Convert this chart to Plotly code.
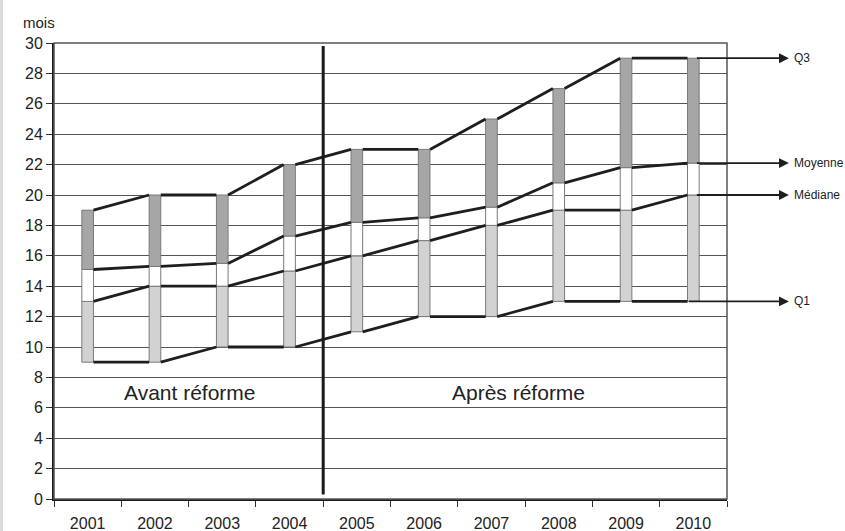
import plotly.graph_objects as go

years = [2001, 2002, 2003, 2004, 2005, 2006, 2007, 2008, 2009, 2010]
q1 = [9.0, 9.0, 10.0, 10.0, 11.0, 12.0, 12.0, 13.0, 13.0, 13.0]
mediane = [13.0, 14.0, 14.0, 15.0, 16.0, 17.0, 18.0, 19.0, 19.0, 20.0]
moyenne = [15.1, 15.3, 15.5, 17.3, 18.2, 18.5, 19.2, 20.8, 21.8, 22.1]
q3 = [19.0, 20.0, 20.0, 22.0, 23.0, 23.0, 25.0, 27.0, 29.0, 29.0]
y_ticks = list(range(0, 31, 2))
reform_split = 2004.5
series_labels = ["Q3", "Moyenne", "Médiane", "Q1"]

BAR_W = 0.173
HW = BAR_W / 2
FONT = "Liberation Sans, Arial, sans-serif"

fig = go.Figure()

outline = dict(color="#7a7a7a", width=1)
fig.add_trace(go.Bar(x=years, base=q1, y=[m - a for m, a in zip(mediane, q1)],
                     width=BAR_W, marker=dict(color="#d2d2d2", line=outline),
                     showlegend=False, hoverinfo="skip"))
fig.add_trace(go.Bar(x=years, base=mediane, y=[m - a for m, a in zip(moyenne, mediane)],
                     width=BAR_W, marker=dict(color="#ffffff", line=outline),
                     showlegend=False, hoverinfo="skip"))
fig.add_trace(go.Bar(x=years, base=moyenne, y=[m - a for m, a in zip(q3, moyenne)],
                     width=BAR_W, marker=dict(color="#a6a6a6", line=outline),
                     showlegend=False, hoverinfo="skip"))


def segments(vals):
    xs, ys = [], []
    for i in range(len(years) - 1):
        xs += [years[i] + HW, years[i + 1] - HW, None]
        ys += [vals[i], vals[i + 1], None]
    return xs, ys


for vals in (q1, mediane, moyenne, q3):
    sx, sy = segments(vals)
    fig.add_trace(go.Scatter(x=sx, y=sy, mode="lines",
                             line=dict(color="#1e1e1e", width=2.8),
                             showlegend=False, hoverinfo="skip"))

x0, x1 = 2000.5, 2010.5


def dom(xv):
    return (xv - x0) / (x1 - x0)


PW = 845 - 54 - 118
shapes = [
    dict(type="line", xref="x", yref="y", x0=reform_split, x1=reform_split,
         y0=0.3, y1=29.8, line=dict(color="#1a1a1a", width=3)),
    dict(type="rect", xref="paper", yref="paper", x0=0, x1=1, y0=0, y1=1,
         line=dict(color="#555555", width=1.5), layer="above"),
    dict(type="rect", xref="paper", yref="paper", x0=-54 / PW, x1=-51 / PW,
         y0=-32 / 456, y1=1 + 43 / 456, fillcolor="#dcdcdc", line=dict(width=0)),
]

annotations = [
    dict(text="mois", xref="paper", yref="paper", x=-0.049, y=1.046,
         xanchor="left", yanchor="middle", showarrow=False,
         font=dict(family=FONT, size=15, color="#222")),
    dict(text="Avant réforme", xref="x", yref="y", x=2002.52, y=7.0,
         showarrow=False, font=dict(family=FONT, size=21, color="#222")),
    dict(text="Après réforme", xref="x", yref="y", x=2007.4, y=7.0,
         showarrow=False, font=dict(family=FONT, size=21, color="#222")),
]

arrow_vals = [q3[-1], moyenne[-1], mediane[-1], q1[-1]]
tail_x = [0.953, 0.953, 0.953, dom(years[-1] - HW)]
head_x = 1.092
for lab, v, tx in zip(series_labels, arrow_vals, tail_x):
    annotations.append(dict(
        text="", x=head_x, y=v, xref="x domain", yref="y",
        ax=tx, ay=v, axref="x domain", ayref="y",
        showarrow=True, arrowhead=2, arrowsize=1.1, arrowwidth=1.8,
        arrowcolor="#1e1e1e", standoff=0, startstandoff=0))
    annotations.append(dict(
        text=lab, x=head_x + 0.004, y=v, xref="x domain", yref="y",
        xanchor="left", yanchor="middle", showarrow=False,
        font=dict(family=FONT, size=12, color="#222")))

fig.update_layout(
    width=845, height=531,
    margin=dict(l=54, r=118, t=43, b=32, autoexpand=False),
    paper_bgcolor="white", plot_bgcolor="white",
    barmode="overlay",
    showlegend=False,
    shapes=shapes,
    annotations=annotations,
    font=dict(family=FONT, color="#222"),
)

fig.update_xaxes(
    range=[x0, x1], tickvals=years, ticktext=[str(y) for y in years],
    ticks="", showgrid=False, zeroline=False, automargin=False,
    showline=True, linecolor="#1a1a1a", linewidth=2,
    tickfont=dict(family=FONT, size=16, color="#222"),
    ticklabelstandoff=9,
    minor=dict(tickvals=[y + 0.5 for y in [2000] + years], ticks="outside",
               ticklen=6, tickcolor="#333", tickwidth=1, showgrid=False),
)
fig.update_yaxes(
    range=[0, 30], tickvals=y_ticks, ticks="outside", ticklen=6,
    tickcolor="#333", tickwidth=1, automargin=False,
    showgrid=True, gridcolor="#555555", gridwidth=1, zeroline=False,
    showline=True, linecolor="#1a1a1a", linewidth=2,
    tickfont=dict(family=FONT, size=16, color="#222"),
)

fig.write_html("out.html", config={"displayModeBar": False},
               post_script="document.body.style.margin='0';")
